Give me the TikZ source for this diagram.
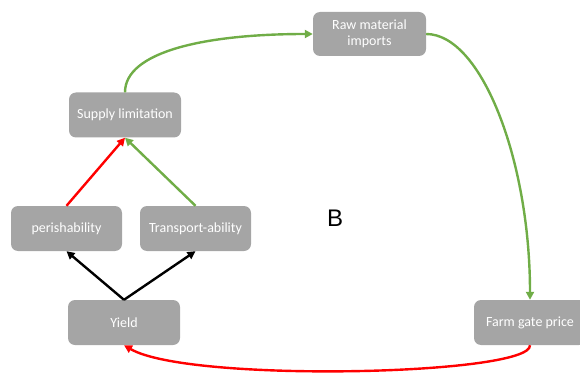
\documentclass[tikz,border=0pt]{standalone}
\usepackage{fontspec}
\setmainfont{Carlito}
\newfontfamily\arialf{Liberation Sans}
\usetikzlibrary{arrows.meta}
\definecolor{boxgray}{HTML}{A5A5A5}
\definecolor{agreen}{HTML}{70AD47}
\definecolor{ared}{HTML}{FF0000}
\tikzset{
  box/.style={draw=none, fill=boxgray, rounded corners=7pt, minimum width=112pt, minimum height=45pt,
    inner sep=0pt, text=white, font=\fontsize{14}{16}\selectfont, align=center},
  conn/.style={line width=2.4pt, -{Triangle[length=8pt,width=8pt]}},
}
\begin{document}
\begin{tikzpicture}[x=1pt,y=-1pt]
\useasboundingbox (0,0) rectangle (580,374);
\node[box, minimum width=113pt, minimum height=44pt] (raw) at (369.5,34) {Raw material\\imports};
\node[box] (sup) at (125,115) {Supply limitation};
\node[box, minimum width=111pt] (per) at (66.5,228.5) {perishability};
\node[box, minimum width=111pt] (tra) at (195.5,228.5) {Transport-ability};
\node[box] (yie) at (124,322.5) {Yield};
\node[box] (farm) at (530,322.5) {Farm gate price};
\node[font=\arialf\fontsize{24}{28}\selectfont] (b) at (335,218) {B};

\draw[conn, agreen] (sup.north) .. controls +(0,-40) and +(-110,0) .. (raw.west);
\draw[conn, agreen] (raw.east) .. controls +(55,0) and +(0,-140) .. (farm.north);
\draw[conn, ared] (farm.south) .. controls +(2,30) and +(65,38) .. (yie.south);
\draw[conn, ared] (per.north) -- (sup.south);
\draw[conn, agreen] (tra.north) -- (sup.south);
\draw[conn, black] (yie.north) -- (per.south);
\draw[conn, black] (yie.north) -- (tra.south);
\end{tikzpicture}
\end{document}
